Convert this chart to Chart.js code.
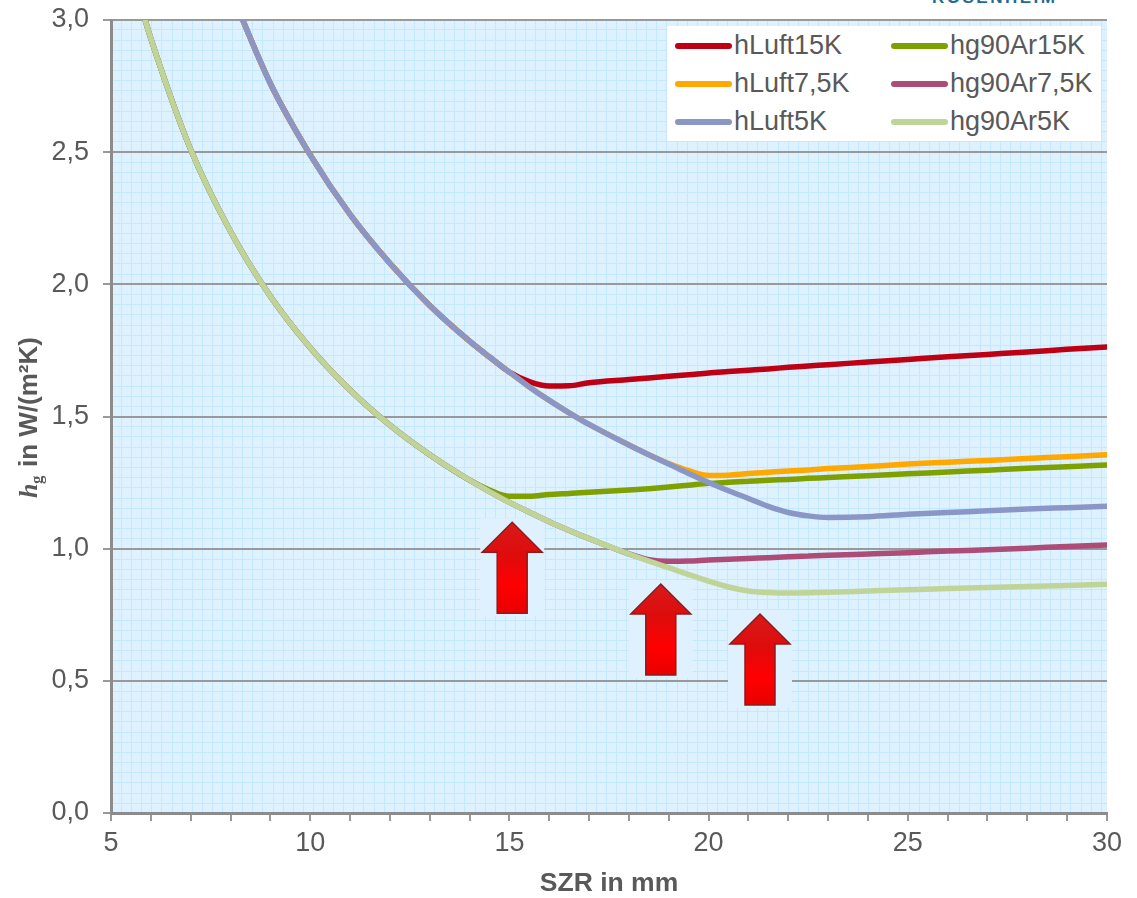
<!DOCTYPE html>
<html>
<head>
<meta charset="utf-8">
<title>hg SZR</title>
<script src="https://cdn.jsdelivr.net/npm/chart.js@4"></script>
<style>
    html, body { margin: 0; padding: 0; background: #fff; overflow: hidden; }
    #wrap { position: relative; width: 1137px; height: 898px; overflow: hidden; font-family: "Liberation Sans", Arial, sans-serif; }
    #chartCanvas { position: absolute; left: 0; top: 0; }
    #logo { position: absolute; left: 932px; top: -10px; font-size: 17px; line-height: 16px; font-weight: bold; letter-spacing: 2.5px; color: #1f6b92; white-space: nowrap; }
    #legend { position: absolute; left: 667px; top: 26px; width: 434px; height: 115px; background: #fff; }
    .item { position: absolute; height: 38px; line-height: 38px; font-size: 27px; color: #595959; white-space: nowrap; }
    .item i { position: absolute; left: 8px; top: 17px; width: 57px; height: 6px; border-radius: 3px; }
    .item span { position: absolute; left: 67px; }
</style>
</head>
<body>
<div id="wrap">
    <div id="logo">ROSENHEIM</div>
    <canvas id="chartCanvas" width="1137" height="898"></canvas>
    <div id="legend"></div>
</div>
<script>
const szr = [5.7, 6, 7, 8, 9, 10, 11, 12, 13, 14, 14.5, 15, 15.5, 16, 16.5, 17, 18, 18.5, 19, 19.5, 20, 20.5, 21, 21.5, 22, 22.5, 23, 24, 25, 26, 27, 28, 29, 30];

const hLuft15K = [null, null, null, 3.11, 2.76, 2.49, 2.265, 2.08, 1.92, 1.785, 1.725, 1.668, 1.632, 1.615, 1.616, 1.628, 1.640, 1.646, 1.652, 1.658, 1.665, 1.670, 1.675, 1.680, 1.686, 1.691, 1.696, 1.706, 1.716, 1.726, 1.735, 1.744, 1.754, 1.763];
const hLuft75K = [null, null, null, 3.11, 2.76, 2.49, 2.265, 2.08, 1.92, 1.785, 1.725, 1.668, 1.612, 1.561, 1.514, 1.47, 1.392, 1.355, 1.322, 1.295, 1.277, 1.278, 1.284, 1.289, 1.294, 1.298, 1.303, 1.311, 1.32, 1.327, 1.334, 1.341, 1.348, 1.355];
const hLuft5K = [null, null, null, 3.11, 2.76, 2.49, 2.265, 2.08, 1.92, 1.785, 1.725, 1.668, 1.612, 1.561, 1.514, 1.47, 1.392, 1.355, 1.32, 1.284, 1.25, 1.219, 1.19, 1.16, 1.137, 1.124, 1.118, 1.121, 1.13, 1.137, 1.143, 1.15, 1.155, 1.16];
const hg90Ar15K = [3.08, 2.93, 2.51, 2.2, 1.955, 1.76, 1.60, 1.467, 1.355, 1.259, 1.222, 1.198, 1.198, 1.205, 1.209, 1.213, 1.222, 1.227, 1.233, 1.24, 1.247, 1.251, 1.255, 1.259, 1.262, 1.266, 1.269, 1.276, 1.283, 1.29, 1.297, 1.304, 1.31, 1.317];
const hg90Ar75K = [3.08, 2.93, 2.51, 2.2, 1.955, 1.76, 1.60, 1.467, 1.355, 1.259, 1.216, 1.175, 1.138, 1.102, 1.069, 1.038, 0.98, 0.958, 0.952, 0.953, 0.957, 0.96, 0.963, 0.966, 0.969, 0.972, 0.975, 0.98, 0.985, 0.991, 0.996, 1.002, 1.008, 1.014];
const hg90Ar5K = [3.08, 2.93, 2.51, 2.2, 1.955, 1.76, 1.60, 1.467, 1.355, 1.259, 1.216, 1.175, 1.138, 1.102, 1.069, 1.038, 0.98, 0.953, 0.928, 0.902, 0.877, 0.855, 0.84, 0.834, 0.832, 0.833, 0.835, 0.84, 0.845, 0.849, 0.853, 0.857, 0.861, 0.865];

const yTicks = [0, 0.5, 1, 1.5, 2, 2.5, 3];
const arrowX = [15.07, 18.8, 21.29];
const arrowTip = [1.10, 0.866, 0.753];

// later entries are painted on top, hLuft5K crosses the green line
const series = [
    { label: 'hLuft15K', values: hLuft15K, color: '#BE0014', order: 6, col: 0, row: 0 },
    { label: 'hLuft7,5K', values: hLuft75K, color: '#FFA800', order: 5, col: 0, row: 1 },
    { label: 'hLuft5K', values: hLuft5K, color: '#8A97C6', order: 1, col: 0, row: 2 },
    { label: 'hg90Ar15K', values: hg90Ar15K, color: '#7FA100', order: 4, col: 1, row: 0 },
    { label: 'hg90Ar7,5K', values: hg90Ar75K, color: '#AE4C78', order: 3, col: 1, row: 1 },
    { label: 'hg90Ar5K', values: hg90Ar5K, color: '#BFD598', order: 2, col: 1, row: 2 },
];

const legendBox = document.getElementById('legend');
series.forEach(s => {
    const item = document.createElement('div');
    item.className = 'item';
    item.style.left = (s.col * 216) + 'px';
    item.style.top = (s.row * 38) + 'px';
    item.innerHTML = '<i style="background:' + s.color + '"></i><span>' + s.label + '</span>';
    legendBox.appendChild(item);
});

const plotBackground = {
    id: 'plotBackground',
    beforeDraw(chart) {
        const { ctx, chartArea: a, scales } = chart;
        ctx.save();
        ctx.fillStyle = '#DDF1FF';
        ctx.fillRect(a.left, a.top, a.right - a.left, a.bottom - a.top);
        ctx.strokeStyle = '#C4E8FF';
        ctx.lineWidth = 1;
        ctx.beginPath();
        for (let v = 5; v < 30; v += 0.2535) {
            const x = Math.round(scales.x.getPixelForValue(v)) + 0.5;
            ctx.moveTo(x, a.top);
            ctx.lineTo(x, a.bottom);
        }
        for (let v = 0; v < 3; v += 0.0385) {
            const y = Math.round(scales.y.getPixelForValue(v)) + 0.5;
            ctx.moveTo(a.left, y);
            ctx.lineTo(a.right, y);
        }
        ctx.stroke();
        ctx.restore();
    }
};

const arrows = {
    id: 'arrows',
    // the pale box sits under the curves, the arrow itself on top
    beforeDatasetsDraw(chart) {
        const { ctx, scales } = chart;
        arrowX.forEach((v, i) => {
            const x = scales.x.getPixelForValue(v);
            const y = scales.y.getPixelForValue(arrowTip[i]);
            ctx.save();
            ctx.fillStyle = '#DFF1FE';
            ctx.fillRect(x - 32, y - 4, 64, 98);
            ctx.restore();
        });
    },
    afterDatasetsDraw(chart) {
        const { ctx, scales } = chart;
        arrowX.forEach((v, i) => {
            const x = scales.x.getPixelForValue(v);
            const y = scales.y.getPixelForValue(arrowTip[i]);
            ctx.save();
            const grad = ctx.createLinearGradient(0, y, 0, y + 91);
            grad.addColorStop(0, '#D81A1A');
            grad.addColorStop(0.35, '#DE0C0C');
            grad.addColorStop(0.7, '#FF0000');
            grad.addColorStop(1, '#E80000');
            ctx.fillStyle = grad;
            ctx.strokeStyle = '#8E1C1C';
            ctx.lineWidth = 1.5;
            ctx.beginPath();
            ctx.moveTo(x, y);
            ctx.lineTo(x + 30, y + 30);
            ctx.lineTo(x + 15, y + 30);
            ctx.lineTo(x + 15, y + 91);
            ctx.lineTo(x - 15, y + 91);
            ctx.lineTo(x - 15, y + 30);
            ctx.lineTo(x - 30, y + 30);
            ctx.closePath();
            ctx.fill();
            ctx.stroke();
            ctx.restore();
        });
    }
};

// Chart.js titles can't mix fonts, so the y title goes on by hand
const yTitle = {
    id: 'yTitle',
    afterDraw(chart) {
        const ctx = chart.ctx;
        ctx.save();
        ctx.translate(37, 498);
        ctx.rotate(-Math.PI / 2);
        ctx.fillStyle = '#595959';
        ctx.textBaseline = 'alphabetic';
        ctx.font = 'italic bold 26px "Liberation Serif", serif';
        ctx.fillText('h', 0, 0);
        ctx.font = 'bold 17px "Liberation Serif", serif';
        ctx.fillText('g', 14, 5);
        ctx.font = 'bold 26px "Liberation Sans", Arial, sans-serif';
        ctx.fillText('in W/(m²K)', 31, 0);
        ctx.restore();
    }
};

const canvas = document.getElementById('chartCanvas');
new Chart(canvas.getContext('2d'), {
    type: 'line',
    data: {
        datasets: series.map(s => ({
            label: s.label,
            data: szr.map((x, i) => ({ x: x, y: s.values[i] })),
            borderColor: s.color,
            backgroundColor: s.color,
            borderWidth: 5.5,
            borderCapStyle: 'round',
            pointRadius: 0,
            cubicInterpolationMode: 'monotone',
            order: s.order
        }))
    },
    options: {
        responsive: false,
        animation: false,
        layout: { padding: { top: 20, right: 30, left: 0, bottom: 0 } },
        plugins: { legend: { display: false }, tooltip: { enabled: false } },
        scales: {
            x: {
                type: 'linear',
                min: 5,
                max: 30,
                afterFit(scale) { scale.height = 85; scale.paddingLeft = 0; scale.paddingRight = 0; },
                afterBuildTicks(scale) {
                    scale.ticks = szr.filter(v => Number.isInteger(v) && v >= 6).map(v => ({ value: v }));
                    scale.ticks.unshift({ value: 5 });
                },
                grid: { drawOnChartArea: false, color: '#999999', lineWidth: 2, tickLength: 8 },
                border: { color: '#8C8C8C', width: 3 },
                ticks: {
                    autoSkip: false,
                    maxRotation: 0,
                    padding: 6,
                    color: '#595959',
                    font: { family: '"Liberation Sans", Arial, sans-serif', size: 27 },
                    callback: v => (v % 5 === 0 ? String(v) : '')
                },
                title: {
                    display: true,
                    text: 'SZR in mm',
                    color: '#595959',
                    padding: { top: 1, bottom: 0 },
                    font: { family: '"Liberation Sans", Arial, sans-serif', size: 26.5, weight: 'bold', lineHeight: 1.05 }
                }
            },
            y: {
                min: 0,
                max: 3,
                afterFit(scale) { scale.width = 111; scale.paddingTop = 0; scale.paddingBottom = 0; },
                afterBuildTicks(scale) { scale.ticks = yTicks.map(v => ({ value: v })); },
                grid: { color: '#999999', lineWidth: 2, tickLength: 8 },
                border: { color: '#8C8C8C', width: 3 },
                ticks: {
                    padding: 14,
                    color: '#595959',
                    font: { family: '"Liberation Sans", Arial, sans-serif', size: 27 },
                    callback: v => v.toFixed(1).replace('.', ',')
                }
            }
        }
    },
    plugins: [plotBackground, arrows, yTitle]
});
</script>
</body>
</html>
